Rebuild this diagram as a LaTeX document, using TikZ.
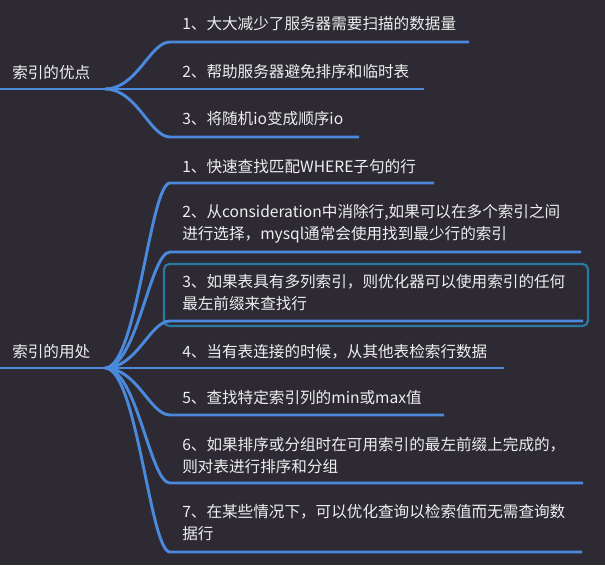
\documentclass[tikz,border=0pt]{standalone}
\usepackage{fontspec}
\setmainfont{Noto Sans CJK SC}
\definecolor{bgdark}{HTML}{2E2A33}
\definecolor{linkblue}{HTML}{4A89DC}
\definecolor{hlteal}{HTML}{2A7BA3}
\definecolor{txtwhite}{HTML}{EEEEEE}

\begin{document}
\begin{tikzpicture}[
    x=0.75pt, y=-0.75pt,
    every node/.style={font=\fontsize{11.7}{16.5}\selectfont, text=txtwhite, inner sep=0pt},
    topic/.style={anchor=west},
    leaf/.style={anchor=west, align=left},
    branch/.style={linkblue, line width=2.2pt},
    hlbox/.style={hlteal, line width=1.6pt, rounded corners=4pt}]
\fill[bgdark] (0,0) rectangle (605,565);
\useasboundingbox (0,0) rectangle (605,565);
% highlighted item
\draw[hlbox] (164,264) rectangle (588,326);
% first topic
\node[topic] (adv) at (12,73) {索引的优点};
\coordinate (adv0) at (0,89);
\coordinate (j1) at (105,89);
\node[leaf] (a1) at (182,24) {1、大大减少了服务器需要扫描的数据量};
\node[leaf] (a2) at (182,72) {2、帮助服务器避免排序和临时表};
\node[leaf] (a3) at (182,119) {3、将随机io变成顺序io};
\coordinate (a1s) at (170,42);  \coordinate (a1e) at (469,42);
\coordinate (a2s) at (170,89);  \coordinate (a2e) at (424,89);
\coordinate (a3s) at (170,137); \coordinate (a3e) at (359,137);
\draw[branch] (adv0) -- (j1);
\draw[branch] (j1) .. controls +(32,0) and +(-20,0) .. (a1s) -- (a1e);
\draw[branch] (j1) -- (a2s) -- (a2e);
\draw[branch] (j1) .. controls +(32,0) and +(-20,0) .. (a3s) -- (a3e);
% second topic
\node[topic] (use) at (12,352) {索引的用处};
\coordinate (use0) at (0,368);
\coordinate (j2) at (105,368);
\node[leaf] (u1) at (182,167) {1、快速查找匹配WHERE子句的行};
\node[leaf] (u2) at (182,224) {2、从consideration中消除行,如果可以在多个索引之间\\进行选择，mysql通常会使用找到最少行的索引};
\node[leaf] (u3) at (182,292.5) {3、如果表具有多列索引，则优化器可以使用索引的任何\\最左前缀来查找行};
\node[leaf] (u4) at (182,352) {4、当有表连接的时候，从其他表检索行数据};
\node[leaf] (u5) at (182,398) {5、查找特定索引列的min或max值};
\node[leaf] (u6) at (182,455.5) {6、如果排序或分组时在可用索引的最左前缀上完成的，\\则对表进行排序和分组};
\node[leaf] (u7) at (182,523) {7、在某些情况下，可以优化查询以检索值而无需查询数\\据行};
\coordinate (u1s) at (170,183); \coordinate (u1e) at (434,183);
\coordinate (u2s) at (170,252); \coordinate (u2e) at (581,252);
\coordinate (u3s) at (170,321); \coordinate (u3e) at (583,321);
\coordinate (u4s) at (170,368); \coordinate (u4e) at (504,368);
\coordinate (u5s) at (170,415); \coordinate (u5e) at (444,415);
\coordinate (u6s) at (170,483); \coordinate (u6e) at (583,483);
\coordinate (u7s) at (170,552); \coordinate (u7e) at (582,552);
\draw[branch] (use0) -- (j2);
\draw[branch] (j2) .. controls +(32,0) and +(-20,0) .. (u1s) -- (u1e);
\draw[branch] (j2) .. controls +(32,0) and +(-20,0) .. (u2s) -- (u2e);
\draw[branch] (j2) .. controls +(32,0) and +(-20,0) .. (u3s) -- (u3e);
\draw[branch] (j2) -- (u4s) -- (u4e);
\draw[branch] (j2) .. controls +(32,0) and +(-20,0) .. (u5s) -- (u5e);
\draw[branch] (j2) .. controls +(32,0) and +(-20,0) .. (u6s) -- (u6e);
\draw[branch] (j2) .. controls +(32,0) and +(-20,0) .. (u7s) -- (u7e);
\end{tikzpicture}
\end{document}
